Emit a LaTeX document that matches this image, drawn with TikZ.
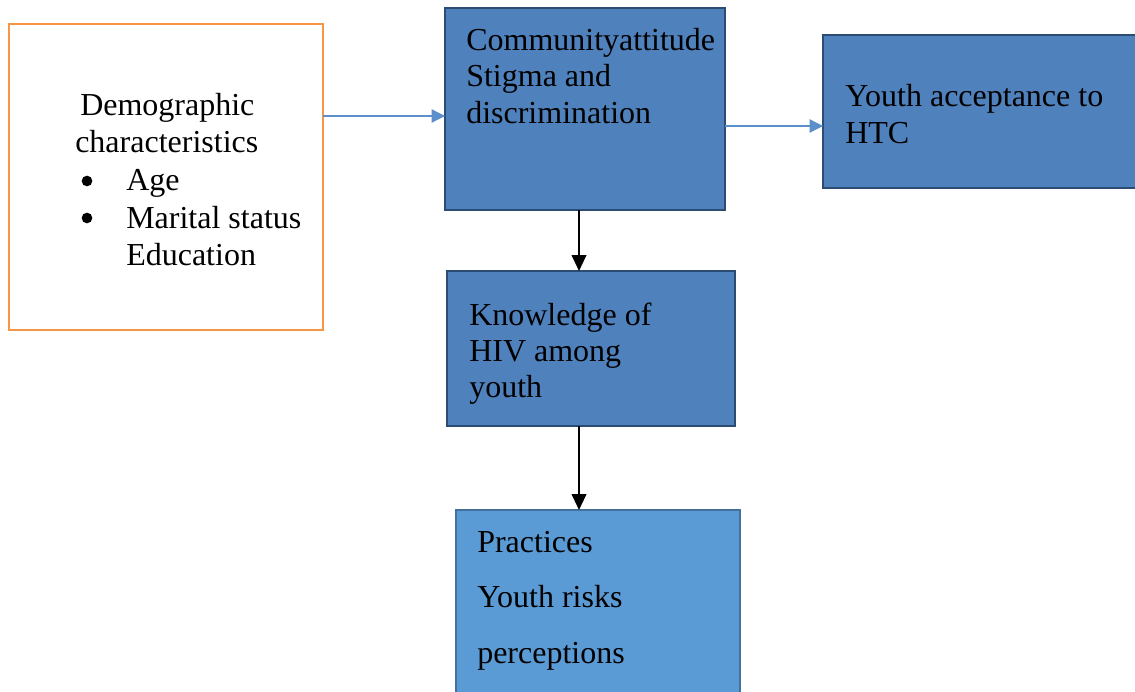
\documentclass[tikz,border=0pt]{standalone}
\usepackage{fontspec}
\setmainfont{Liberation Serif}
\usetikzlibrary{arrows.meta}
\definecolor{boxblue}{HTML}{4F81BD}
\definecolor{boxedge}{HTML}{2C4C74}
\definecolor{lightblue}{HTML}{5B9BD5}
\definecolor{lightedge}{HTML}{41719C}
\definecolor{orangeedge}{HTML}{F79646}
\definecolor{arrowblue}{HTML}{5B8FC9}
\begin{document}
\begin{tikzpicture}[x=0.75pt,y=-0.75pt,
  box/.style={rectangle,inner sep=0pt,outer sep=0pt,line width=1.6pt},
  bluebox/.style={box,draw=boxedge,fill=boxblue},
  lbox/.style={box,draw=lightedge,fill=lightblue},
  obox/.style={box,draw=orangeedge,fill=white},
  txt/.style={anchor=base west,inner sep=0pt,font=\fontsize{24}{27.75}\selectfont},
  dot/.style={circle,fill=black,inner sep=0pt,minimum size=8pt},
  barrow/.style={draw=arrowblue,line width=0.9pt,-{Triangle[length=10pt,width=10pt]}},
  karrow/.style={draw=black,line width=1.5pt,-{Triangle[length=12pt,width=11pt]}}]
\useasboundingbox (0,0) rectangle (1135,692);
\node[obox,minimum width=314*0.75pt,minimum height=306*0.75pt] (demo) at (166,177) {};
\node[bluebox,minimum width=280*0.75pt,minimum height=202*0.75pt] (comm) at (585,109) {};
\node[bluebox,minimum width=330*0.75pt,minimum height=153*0.75pt] (youth) at (988,111.5) {};
\node[bluebox,minimum width=288*0.75pt,minimum height=155*0.75pt] (know) at (591,348.5) {};
\node[lbox,minimum width=284*0.75pt,minimum height=200*0.75pt] (prac) at (598,610) {};
% texts
\node[txt] (d1) at (80,115) {Demographic};
\node[txt] (d2) at (75,152) {characteristics};
\node[dot] (b1) at (87,181) {};
\node[txt] (d3) at (126,190) {Age};
\node[dot] (b2) at (87,218) {};
\node[txt] (d4) at (126,228) {Marital status};
\node[txt] (d5) at (126,265) {Education};
\node[txt] (c1) at (466,51) {Communityattitude};
\node[txt] (c2) at (466,87) {Stigma and};
\node[txt] (c3) at (466,123) {discrimination};
\node[txt] (y1) at (845,107) {Youth acceptance to};
\node[txt] (y2) at (845,143) {HTC};
\node[txt] (k1) at (469,325) {Knowledge of};
\node[txt] (k2) at (469,361) {HIV among};
\node[txt] (k3) at (469,397) {youth};
\node[txt] (p1) at (477,552) {Practices};
\node[txt] (p2) at (477,607) {Youth risks};
\node[txt] (p3) at (477,663) {perceptions};
% connectors
\draw[barrow] (demo.east |- 0,116) -- (comm.west |- 0,116);
\draw[barrow] (comm.east |- 0,126) -- (youth.west |- 0,126);
\draw[karrow] (comm.south -| 579,0) -- (know.north -| 579,0);
\draw[karrow] (know.south -| 579,0) -- (prac.north -| 579,0);
\end{tikzpicture}
\end{document}
